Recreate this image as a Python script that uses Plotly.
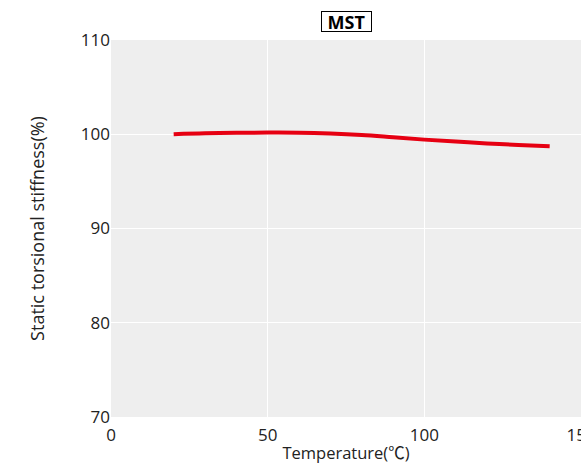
import plotly.graph_objects as go

temperature = [20, 30, 40, 50, 60, 70, 80, 90, 100, 110, 120, 130, 140]
stiffness = [100.0, 100.1, 100.15, 100.18, 100.17, 100.08, 99.92, 99.68, 99.43, 99.22, 99.03, 98.87, 98.73]

x_ticks = [0, 50, 100, 150]
y_ticks = [70, 80, 90, 100, 110]

FONT = "Open Sans, Noto Sans CJK JP"

fig = go.Figure()
fig.add_trace(go.Scatter(
    x=temperature, y=stiffness, mode="lines",
    line=dict(color="#e60012", width=4, shape="spline", smoothing=1.0),
    hoverinfo="skip", showlegend=False,
))

fig.update_layout(
    width=581, height=469,
    margin=dict(l=111, r=0, t=40, b=52),
    paper_bgcolor="white", plot_bgcolor="#eeeeee",
    font=dict(family=FONT, size=17, color="#222222"),
    showlegend=False,
    xaxis=dict(range=[0, 150], tickvals=x_ticks, showgrid=True, gridcolor="white",
               gridwidth=1, zeroline=False, showline=False,
               ticks="outside", ticklen=3, tickcolor="rgba(0,0,0,0)",
               ticklabeloverflow="allow", automargin=False,
               title=dict(text="Temperature(℃)", font=dict(size=16.5), standoff=2),
               tickfont=dict(size=17)),
    yaxis=dict(range=[70, 110], tickvals=y_ticks, showgrid=True, gridcolor="white",
               gridwidth=1, zeroline=False, showline=False, ticks="", automargin=False,
               ticklabeloverflow="allow",
               title=dict(text="Static torsional stiffness(%)", font=dict(size=18), standoff=31),
               tickfont=dict(size=17)),
    annotations=[dict(
        text="<b>MST</b>", x=0.5, y=1.0, xref="paper", yref="paper",
        xanchor="center", yanchor="bottom", yshift=8, showarrow=False,
        width=49, height=19, align="center", valign="middle",
        font=dict(size=18, color="black"), bordercolor="black", borderwidth=1,
        borderpad=0, bgcolor="white",
    )],
)

fig.write_html(
    "out.html",
    config={"displayModeBar": False},
    post_script="document.body.style.margin='0';document.body.style.overflow='hidden';"
                "document.documentElement.style.overflow='hidden';",
)
